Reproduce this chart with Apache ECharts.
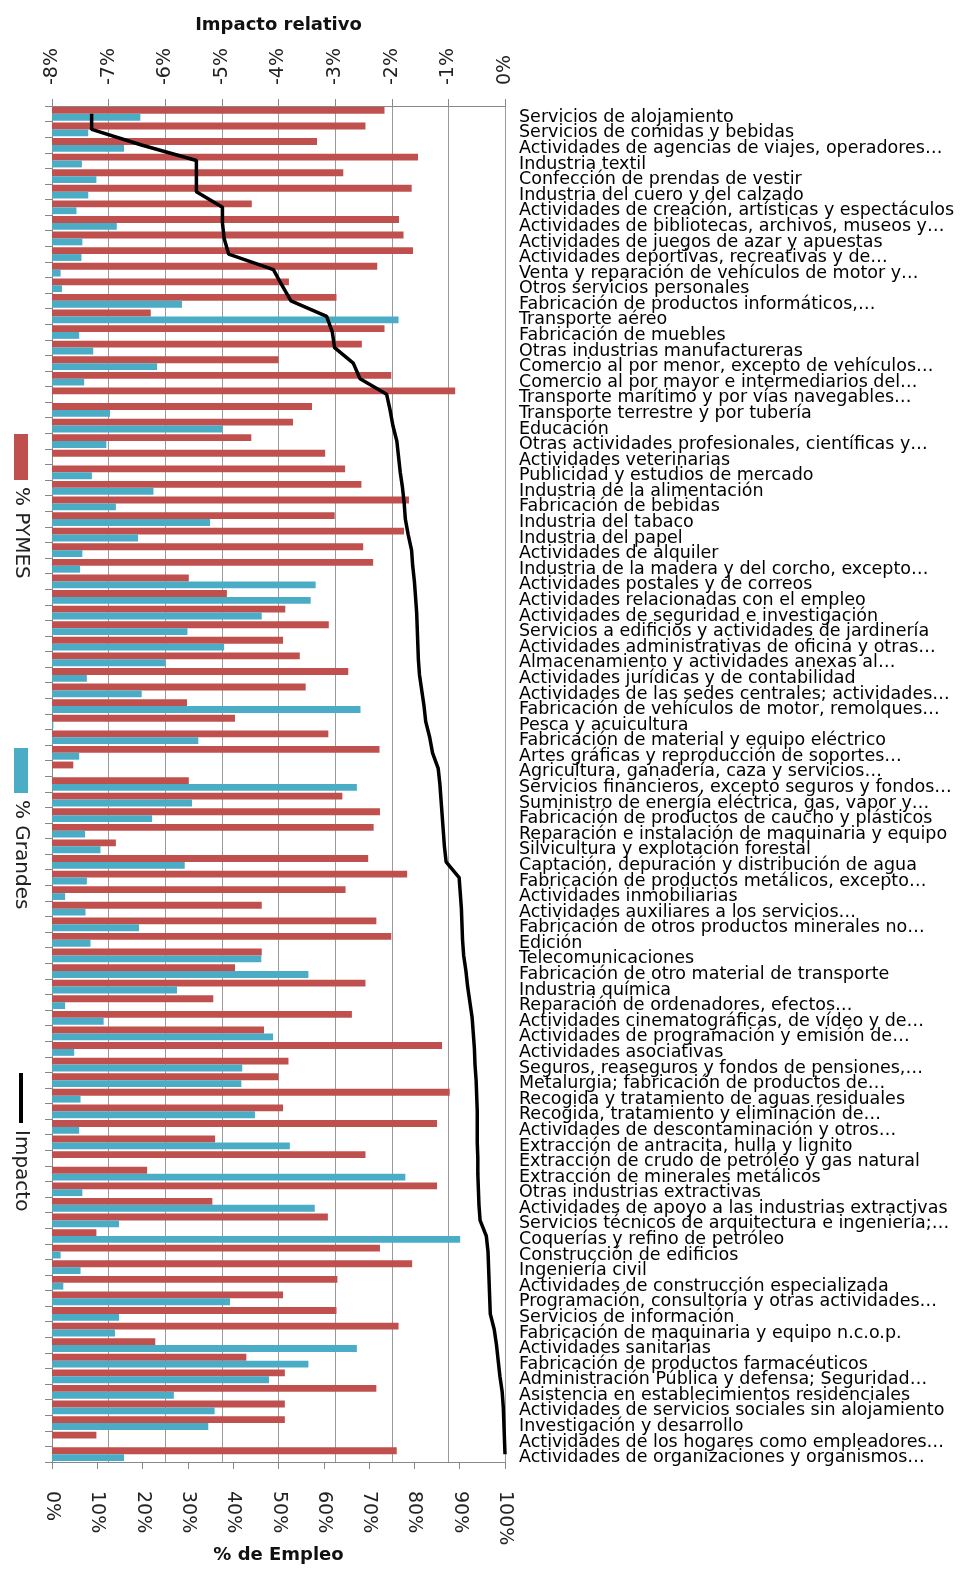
<!DOCTYPE html>
<html><head><meta charset="utf-8">
<script src="https://cdn.jsdelivr.net/npm/echarts@6/dist/echarts.min.js"></script>
<style>html,body{margin:0;padding:0;background:#fff}#c{width:975px;height:1575px}</style>
</head><body><div id="c"></div>
<script>
const categories = [
"Servicios de alojamiento","Servicios de comidas y bebidas","Actividades de agencias de viajes, operadores…","Industria textil","Confección de prendas de vestir","Industria del cuero y del calzado","Actividades de creación, artísticas y espectáculos","Actividades de bibliotecas, archivos, museos y…","Actividades de juegos de azar y apuestas","Actividades deportivas, recreativas y de…",
"Venta y reparación de vehículos de motor y…","Otros servicios personales","Fabricación de productos informáticos,…","Transporte aéreo","Fabricación de muebles","Otras industrias manufactureras","Comercio al por menor, excepto de vehículos…","Comercio al por mayor e intermediarios del…","Transporte marítimo y por vías navegables…","Transporte terrestre y por tubería",
"Educación","Otras actividades profesionales, científicas y…","Actividades veterinarias","Publicidad y estudios de mercado","Industria de la alimentación","Fabricación de bebidas","Industria del tabaco","Industria del papel","Actividades de alquiler","Industria de la madera y del corcho, excepto…",
"Actividades postales y de correos","Actividades relacionadas con el empleo","Actividades de seguridad e investigación","Servicios a edificios y actividades de jardinería","Actividades administrativas de oficina y otras…","Almacenamiento y actividades anexas al…","Actividades jurídicas y de contabilidad","Actividades de las sedes centrales; actividades…","Fabricación de vehículos de motor, remolques…","Pesca y acuicultura",
"Fabricación de material y equipo eléctrico","Artes gráficas y reproducción de soportes…","Agricultura, ganadería, caza y servicios…","Servicios financieros, excepto seguros y fondos…","Suministro de energía eléctrica, gas, vapor y…","Fabricación de productos de caucho y plásticos","Reparación e instalación de maquinaria y equipo","Silvicultura y explotación forestal","Captación, depuración y distribución de agua","Fabricación de productos metálicos, excepto…",
"Actividades inmobiliarias","Actividades auxiliares a los servicios…","Fabricación de otros productos minerales no…","Edición","Telecomunicaciones","Fabricación de otro material de transporte","Industria química","Reparación de ordenadores, efectos…","Actividades cinematográficas, de vídeo y de…","Actividades de programación y emisión de…",
"Actividades asociativas","Seguros, reaseguros y fondos de pensiones,…","Metalurgia; fabricación de productos de…","Recogida y tratamiento de aguas residuales","Recogida, tratamiento y eliminación de…","Actividades de descontaminación y otros…","Extracción de antracita, hulla y lignito","Extracción de crudo de petróleo y gas natural","Extracción de minerales metálicos","Otras industrias extractivas",
"Actividades de apoyo a las industrias extractivas","Servicios técnicos de arquitectura e ingeniería;…","Coquerías y refino de petróleo","Construcción de edificios","Ingeniería civil","Actividades de construcción especializada","Programación, consultoría y otras actividades…","Servicios de información","Fabricación de maquinaria y equipo n.c.o.p.","Actividades sanitarias",
"Fabricación de productos farmacéuticos","Administración Pública y defensa; Seguridad…","Asistencia en establecimientos residenciales","Actividades de servicios sociales sin alojamiento","Investigación y desarrollo","Actividades de los hogares como empleadores…","Actividades de organizaciones y organismos…"
];
const pymes = [
73.4,69.2,58.5,80.8,64.3,79.4,44.1,76.6,77.6,79.7,
71.8,52.3,62.8,21.8,73.4,68.4,50.0,74.9,89.0,57.4,
53.2,44.0,60.3,64.7,68.3,78.8,62.4,77.7,68.7,70.9,
30.2,38.6,51.5,61.1,51.0,54.7,65.4,56.0,29.8,40.4,
61.0,72.3,4.7,30.2,64.1,72.4,71.0,14.1,69.8,78.4,
64.8,46.3,71.6,74.9,46.3,40.4,69.2,35.6,66.2,46.8,
86.1,52.2,50.0,87.8,51.0,85.0,36.0,69.2,21.0,85.0,
35.4,60.9,9.8,72.4,79.5,63.0,51.0,62.8,76.5,22.8,
42.9,51.4,71.6,51.4,51.4,9.8,76.1
];
const grandes = [
19.5,8.0,15.9,6.6,9.8,8.0,5.4,14.3,6.7,6.5,
1.9,2.2,28.7,76.5,6.0,9.1,23.2,7.1,0,12.8,
37.6,12.0,0,8.8,22.4,14.1,34.9,19.0,6.7,6.2,
58.2,57.1,46.3,29.9,38.0,25.0,7.7,19.8,68.1,0.3,
32.3,6.0,0,67.3,30.9,22.1,7.3,10.7,29.3,7.7,
2.9,7.4,19.2,8.5,46.2,56.6,27.6,2.9,11.4,48.8,
4.9,42.0,41.8,6.3,44.8,6.0,52.5,0,78.0,6.7,
58.0,14.8,90.1,1.9,6.3,2.5,39.3,14.8,13.9,67.3,
56.6,47.9,26.9,35.9,34.5,0,15.9
];
const impacto = [
-7.30,-7.30,-6.42,-5.45,-5.45,-5.45,-4.99,-4.99,-4.96,-4.88,
-4.09,-3.94,-3.78,-3.15,-3.05,-3.01,-2.68,-2.56,-2.09,-2.03,
-1.98,-1.91,-1.88,-1.85,-1.81,-1.78,-1.76,-1.71,-1.65,-1.63,
-1.60,-1.58,-1.56,-1.55,-1.54,-1.53,-1.51,-1.47,-1.43,-1.40,
-1.33,-1.28,-1.18,-1.15,-1.13,-1.11,-1.09,-1.07,-1.04,-0.81,
-0.79,-0.77,-0.76,-0.75,-0.73,-0.69,-0.66,-0.62,-0.58,-0.56,
-0.54,-0.53,-0.51,-0.50,-0.49,-0.49,-0.49,-0.48,-0.48,-0.47,
-0.46,-0.44,-0.33,-0.30,-0.29,-0.28,-0.27,-0.26,-0.19,-0.15,
-0.12,-0.09,-0.05,-0.03,-0.02,-0.01,0.00
];
const seriesNames = ['% PYMES','% Grandes','Impacto'];
const axisTitles = ['% de Empleo','Impacto relativo'];

const FONT = 'DejaVu Sans';
const RED = '#C0504D', BLUE = '#4BACC6';
const chart = echarts.init(document.getElementById('c'), null, {renderer:'canvas'});
const tickLabel = {rotate:-90, formatter:'{value}%', fontFamily:FONT, fontSize:19, color:'#222'};
const option = {
  animation:false,
  backgroundColor:'#fff',
  grid:{left:52, right:470, top:106, bottom:113, containLabel:false, outerBoundsMode:'none'},
  xAxis:[
    {type:'value', position:'bottom', min:0, max:100, interval:10,
     name:axisTitles[0], nameLocation:'middle', nameGap:84, nameMoveOverlap:false,
     nameTextStyle:{fontFamily:FONT, fontWeight:'bold', fontSize:18, color:'#111'},
     axisLine:{show:true, lineStyle:{color:'#888'}},
     axisTick:{show:true, length:7, lineStyle:{color:'#888'}},
     axisLabel:Object.assign({margin:29}, tickLabel),
     splitLine:{show:false}},
    {type:'value', position:'top', min:-8, max:0, interval:1,
     name:axisTitles[1], nameLocation:'middle', nameGap:72, nameMoveOverlap:false,
     nameTextStyle:{fontFamily:FONT, fontWeight:'bold', fontSize:18, color:'#111'},
     axisLine:{show:true, lineStyle:{color:'#888'}},
     axisTick:{show:true, length:7, lineStyle:{color:'#888'}},
     axisLabel:Object.assign({margin:21}, tickLabel),
     splitLine:{show:true, lineStyle:{color:'#9a9a9a', width:1}}}
  ],
  yAxis:{type:'category', data:categories, inverse:true, position:'right',
    axisLine:{show:true, lineStyle:{color:'#888'}},
    axisTick:{show:true, inside:true, length:7, lineStyle:{color:'#888'}},
    axisLabel:{interval:0, margin:14, fontFamily:FONT, fontSize:17.5, color:'#000',
               verticalAlign:'top', lineHeight:7},
    splitLine:{show:false}},
  series:[
    {name:seriesNames[0], type:'bar', data:pymes, xAxisIndex:0, yAxisIndex:0,
     barGap:'0%', barCategoryGap:'12%', itemStyle:{color:RED}},
    {name:seriesNames[1], type:'bar', data:grandes, xAxisIndex:0, yAxisIndex:0,
     barGap:'0%', barCategoryGap:'12%', itemStyle:{color:BLUE}},
    {name:seriesNames[2], type:'line', data:impacto, xAxisIndex:1, yAxisIndex:0,
     symbol:'none', z:5, lineStyle:{color:'#000', width:3.5}}
  ],
  graphic:[
    {type:'rect', shape:{x:14, y:434, width:14, height:46}, style:{fill:RED}},
    {type:'text', x:21, y:487, rotation:-Math.PI/2,
     style:{text:seriesNames[0], fontFamily:FONT, fontSize:20, fill:'#222', align:'left', verticalAlign:'middle'}},
    {type:'rect', shape:{x:14, y:748, width:14, height:45}, style:{fill:BLUE}},
    {type:'text', x:21, y:800, rotation:-Math.PI/2,
     style:{text:seriesNames[1], fontFamily:FONT, fontSize:20, fill:'#222', align:'left', verticalAlign:'middle'}},
    {type:'rect', shape:{x:19, y:1073, width:4, height:50}, style:{fill:'#000'}},
    {type:'text', x:21, y:1130, rotation:-Math.PI/2,
     style:{text:seriesNames[2], fontFamily:FONT, fontSize:20, fill:'#222', align:'left', verticalAlign:'middle'}}
  ]
};
chart.setOption(option);
</script></body></html>
